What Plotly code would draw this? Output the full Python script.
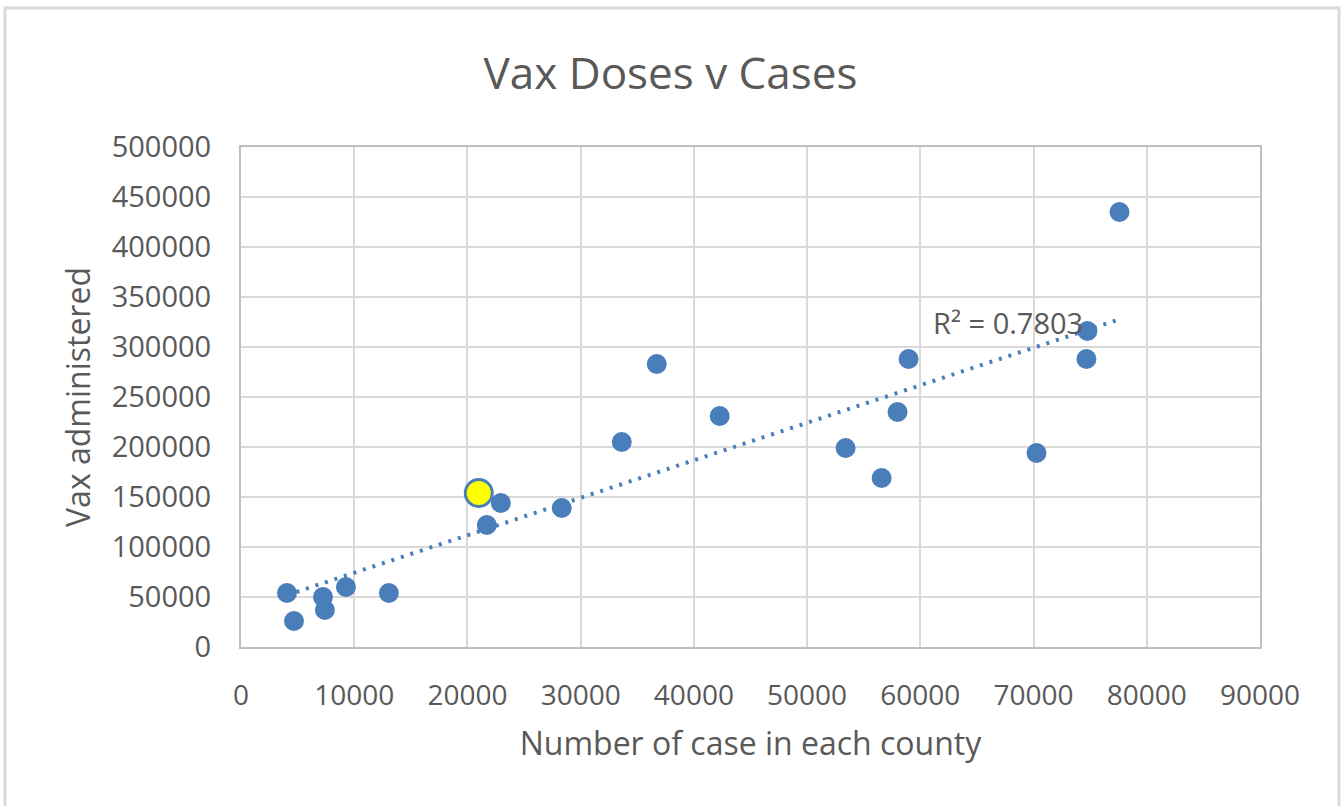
import plotly.graph_objects as go
import numpy as np

# cases per county vs vaccine doses administered
cases = [4060, 4680, 7240, 7410, 9270, 13060, 21710, 22950, 28330, 33630,
         36720, 42280, 53400, 56580, 57990, 58960, 70260, 74670, 74760, 77590]
doses = [54000, 26000, 50000, 37000, 60000, 54000, 122000, 144000, 139000, 205000,
         283000, 231000, 199000, 169000, 235000, 288000, 194000, 288000, 316000, 435000]

# highlighted county
hl_cases = [21000]
hl_doses = [154000]

x_ticks = [0, 10000, 20000, 30000, 40000, 50000, 60000, 70000, 80000, 90000]
y_ticks = [0, 50000, 100000, 150000, 200000, 250000, 300000, 350000, 400000, 450000, 500000]

r2_label = "R² = 0.7803"

all_x = np.array(cases + hl_cases)
all_y = np.array(doses + hl_doses)
slope, intercept = np.polyfit(all_x, all_y, 1)
fit_x = np.array([all_x.min(), all_x.max()])
fit_y = slope * fit_x + intercept

blue = "#4a7ebb"
grey = "#595959"
font_family = "Open Sans, Liberation Sans, sans-serif"

fig = go.Figure()

fig.add_trace(go.Scatter(
    x=fit_x, y=fit_y, mode="lines",
    line=dict(color=blue, width=4, dash="3px,7px"),
    hoverinfo="skip"
))

fig.add_trace(go.Scatter(
    x=cases, y=doses, mode="markers",
    marker=dict(size=20, color=blue, line=dict(width=0))
))

fig.add_trace(go.Scatter(
    x=hl_cases, y=hl_doses, mode="markers",
    marker=dict(size=27, color="#ffff00", line=dict(width=3, color=blue))
))

fig.add_annotation(
    x=67700, y=325000, text=r2_label, showarrow=False,
    font=dict(size=29, color=grey, family=font_family)
)

# outer chart border
fig.add_shape(type="rect", xref="paper", yref="paper",
              x0=-0.2316, y0=-0.33, x1=1.0775, y1=1.278,
              line=dict(color="#d9d9d9", width=3), layer="below")

fig.update_layout(
    width=1341, height=806,
    margin=dict(l=241, r=81, t=147, b=159),
    paper_bgcolor="white", plot_bgcolor="white",
    showlegend=False,
    font=dict(family=font_family, color=grey),
    title=dict(text="Vax Doses v Cases", x=0.5, xanchor="center",
               y=0.909, yanchor="middle",
               font=dict(size=44, color=grey, family=font_family)),
    xaxis=dict(
        range=[0, 90000], tickvals=x_ticks, ticktext=[str(v) for v in x_ticks],
        showgrid=True, gridcolor="#d9d9d9", gridwidth=2,
        showline=True, linecolor="#bfbfbf", linewidth=2, mirror=True,
        zeroline=False, ticks="", ticklabelstandoff=22,
        tickfont=dict(size=28, color=grey),
        title=dict(text="Number of case in each county", font=dict(size=32, color=grey),
                   standoff=21),
    ),
    yaxis=dict(
        range=[0, 500000], tickvals=y_ticks, ticktext=[str(v) for v in y_ticks],
        showgrid=True, gridcolor="#d9d9d9", gridwidth=2,
        showline=True, linecolor="#bfbfbf", linewidth=2, mirror=True,
        zeroline=False, ticks="", ticklabelstandoff=22,
        tickfont=dict(size=29, color=grey),
        title=dict(text="Vax administered", font=dict(size=32, color=grey),
                   standoff=12),
    ),
)

fig.write_html("out.html", config={"displayModeBar": False},
               post_script="document.body.style.margin='0px';")
